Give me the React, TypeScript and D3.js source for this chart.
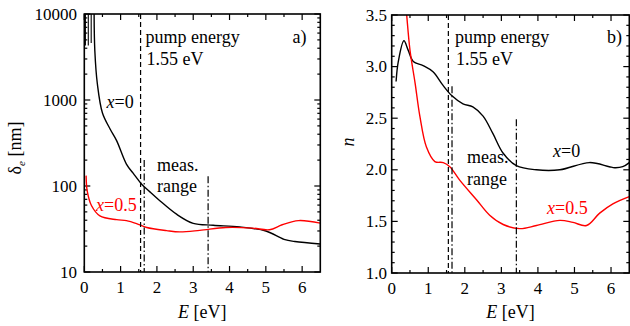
import React from 'react';
import * as d3 from 'd3';

// ---- data ----
const deltaX0E = [0.27, 0.29, 0.36, 0.5, 0.71, 0.89, 1.16, 1.35, 1.58, 1.8, 2.08, 2.54, 3.0, 3.55, 4.28, 5.0, 5.5, 5.8, 6.5];
const deltaX0 = [10000, 3740, 1535, 706, 460, 337, 180, 140, 105, 86, 67.5, 47, 36.8, 35, 33.4, 30, 24, 22.6, 21.2];
const deltaX0SpikeE = [0.03, 0.11, 0.19];
const deltaX0SpikeLow = [4300, 4300, 4600];
const deltaX05E = [0.05, 0.08, 0.2, 0.43, 0.89, 1.16, 1.44, 1.72, 2.27, 2.63, 3.18, 3.9, 4.63, 5.1, 5.45, 5.9, 6.5];
const deltaX05 = [132, 88, 59, 45, 40.6, 39.6, 36.6, 32.9, 30.3, 29.3, 30.5, 32.9, 32.4, 31, 35.4, 39.6, 37];

const nX0E = [0.12, 0.18, 0.335, 0.45, 0.59, 0.86, 1.13, 1.4, 1.64, 1.95, 2.22, 2.5, 2.77, 3.05, 3.41, 3.96, 4.6, 5.41, 5.95, 6.1, 6.32, 6.5];
const nX0 = [2.855, 3.048, 3.25, 3.16, 3.05, 3.01, 2.95, 2.82, 2.72, 2.64, 2.61, 2.52, 2.35, 2.16, 2.04, 2.0, 2.0, 2.07, 2.03, 2.02, 2.03, 2.07];
const nX05E = [0.35, 0.41, 0.5, 0.64, 0.77, 0.95, 1.18, 1.41, 1.59, 1.86, 2.32, 2.68, 3.05, 3.5, 3.96, 4.6, 4.96, 5.33, 5.69, 6.05, 6.5];
const nX05 = [3.75, 3.5, 3.16, 2.84, 2.52, 2.22, 2.08, 2.07, 2.03, 1.9, 1.71, 1.56, 1.47, 1.43, 1.46, 1.51, 1.49, 1.46, 1.58, 1.67, 1.74];

const pumpEnergy = 1.55;
const measRange = [1.65, 3.41];
const measTopDelta = [200, 130];
const measTopN = [2.81, 2.49];

const xMajor = [0, 1, 2, 3, 4, 5, 6];
const xMinor = [0.5, 1.5, 2.5, 3.5, 4.5, 5.5];
const deltaMajor = [10, 100, 1000, 10000];
const nMajor = [1.0, 1.5, 2.0, 2.5, 3.0, 3.5];

const RED = '#ff0000';
const FONT = 'Liberation Serif';

function zip(xs: number[], ys: number[]): [number, number][] {
  return xs.map((x, i) => [x, ys[i]]);
}

type TProps = { x: number; y: number; size?: number; anchor?: string; fill?: string; italic?: boolean; transform?: string; children?: React.ReactNode };
function T({ x, y, size = 18, anchor = 'start', fill = '#000', italic = false, transform, children }: TProps) {
  return (
    <text x={x} y={y} transform={transform} fontSize={size} textAnchor={anchor} fill={fill}
      fontFamily={FONT} fontStyle={italic ? 'italic' : 'normal'} style={{ fontFamily: FONT }}>
      {children}
    </text>
  );
}

export default function App() {
  const W = 630, H = 326;
  const xL = d3.scaleLinear().domain([0, 6.5]).range([84.3, 320.3]);
  const yL = d3.scaleLog().domain([10, 10000]).range([272, 14]);
  const xR = d3.scaleLinear().domain([0, 6.5]).range([391.7, 629.3]);
  const yR = d3.scaleLinear().domain([1, 3.5]).range([273, 15]);

  const lineL = d3.line<[number, number]>().x(d => xL(d[0])).y(d => yL(d[1])).curve(d3.curveCatmullRom.alpha(0.5));
  const lineR = d3.line<[number, number]>().x(d => xR(d[0])).y(d => yR(d[1])).curve(d3.curveCatmullRom.alpha(0.5));

  const deltaMinor: number[] = [];
  [10, 100, 1000].forEach(b => { for (let k = 2; k <= 9; k++) deltaMinor.push(b * k); });
  const nMinor = d3.range(1.1, 3.5, 0.1).filter(v => Math.abs(v * 2 - Math.round(v * 2)) > 0.01);

  const tick = 6, mtick = 3;
  const dashed = '5,3';
  const dashdot = '7,2.5,1.5,2.5';

  const xl0 = xL.range()[0], xl1 = xL.range()[1], yl0 = yL.range()[0], yl1 = yL.range()[1];
  const xr0 = xR.range()[0], xr1 = xR.range()[1], yr0 = yR.range()[0], yr1 = yR.range()[1];

  const tickStyle = { stroke: '#000', strokeWidth: 1.2 };

  return (
    <svg width={W} height={H} style={{ position: 'absolute', left: 0, top: 0 }}>
      <style>{`text, tspan { font-family: "Liberation Serif", serif; }`}</style>
      <defs>
        <clipPath id="clipL"><rect x={xl0} y={yl1} width={xl1 - xl0} height={yl0 - yl1} /></clipPath>
        <clipPath id="clipR"><rect x={xr0} y={yr1} width={xr1 - xr0} height={yr0 - yr1} /></clipPath>
      </defs>
      <rect x={0} y={0} width={W} height={H} fill="#fff" />

      {/* ===== LEFT PANEL ===== */}
      <g>
        {xMajor.map(v => (
          <g key={'lxm' + v}>
            <line x1={xL(v)} x2={xL(v)} y1={yl0} y2={yl0 - tick} {...tickStyle} />
            <line x1={xL(v)} x2={xL(v)} y1={yl1} y2={yl1 + tick} {...tickStyle} />
            <T x={xL(v)} y={293} size={17} anchor="middle">{v}</T>
          </g>
        ))}
        {xMinor.map(v => (
          <g key={'lxn' + v}>
            <line x1={xL(v)} x2={xL(v)} y1={yl0} y2={yl0 - mtick} {...tickStyle} />
            <line x1={xL(v)} x2={xL(v)} y1={yl1} y2={yl1 + mtick} {...tickStyle} />
          </g>
        ))}
        {deltaMajor.map(v => (
          <g key={'lym' + v}>
            <line x1={xl0} x2={xl0 + tick} y1={yL(v)} y2={yL(v)} {...tickStyle} />
            <line x1={xl1} x2={xl1 - tick} y1={yL(v)} y2={yL(v)} {...tickStyle} />
            <T x={77} y={yL(v) + 5.5} size={17} anchor="end">{v}</T>
          </g>
        ))}
        {deltaMinor.map(v => (
          <g key={'lyn' + v}>
            <line x1={xl0} x2={xl0 + mtick} y1={yL(v)} y2={yL(v)} {...tickStyle} />
            <line x1={xl1} x2={xl1 - mtick} y1={yL(v)} y2={yL(v)} {...tickStyle} />
          </g>
        ))}

        <g clipPath="url(#clipL)" fill="none">
          {deltaX0SpikeE.map((e, i) => (
            <line key={'sp' + i} x1={xL(e)} x2={xL(e)} y1={yl1} y2={yL(deltaX0SpikeLow[i])} stroke="#000" strokeWidth={1.1} />
          ))}
          <path d={lineL(zip(deltaX0E, deltaX0)) || ''} stroke="#000" strokeWidth={1.4} />
          <path d={lineL(zip(deltaX05E, deltaX05)) || ''} stroke={RED} strokeWidth={1.4} />
        </g>

        <line x1={xL(pumpEnergy)} x2={xL(pumpEnergy)} y1={yl1} y2={yl0} stroke="#000" strokeWidth={1.2} strokeDasharray={dashed} />
        {measRange.map((e, i) => (
          <line key={'lmr' + i} x1={xL(e)} x2={xL(e)} y1={yL(measTopDelta[i])} y2={yl0} stroke="#000" strokeWidth={1.2} strokeDasharray={dashdot} />
        ))}

        <rect x={xl0} y={yl1} width={xl1 - xl0} height={yl0 - yl1} fill="none" stroke="#000" strokeWidth={1.6} />

        <T x={145.5} y={43}>pump energy</T>
        <T x={146.5} y={65}>1.55 eV</T>
        <T x={292.5} y={43}>a)</T>
        <T x={157} y={171}>meas.</T>
        <T x={157} y={192}>range</T>
        <T x={106.5} y={108}><tspan fontStyle="italic">x</tspan>=0</T>
        <T x={96} y={211} fill={RED}><tspan fontStyle="italic">x</tspan>=0.5</T>

        <T x={xL(3.25)} y={318} anchor="middle"><tspan fontStyle="italic">E</tspan> [eV]</T>
        <T x={0} y={0} transform="translate(21,148) rotate(-90)" anchor="middle">
          δ<tspan fontStyle="italic" fontSize={11} dy={4}>e</tspan><tspan dy={-4}> [nm]</tspan>
        </T>
      </g>

      {/* ===== RIGHT PANEL ===== */}
      <g>
        {xMajor.map(v => (
          <g key={'rxm' + v}>
            <line x1={xR(v)} x2={xR(v)} y1={yr0} y2={yr0 - tick} {...tickStyle} />
            <line x1={xR(v)} x2={xR(v)} y1={yr1} y2={yr1 + tick} {...tickStyle} />
            <T x={xR(v)} y={294} size={17} anchor="middle">{v}</T>
          </g>
        ))}
        {xMinor.map(v => (
          <g key={'rxn' + v}>
            <line x1={xR(v)} x2={xR(v)} y1={yr0} y2={yr0 - mtick} {...tickStyle} />
            <line x1={xR(v)} x2={xR(v)} y1={yr1} y2={yr1 + mtick} {...tickStyle} />
          </g>
        ))}
        {nMajor.map(v => (
          <g key={'rym' + v}>
            <line x1={xr0} x2={xr0 + tick} y1={yR(v)} y2={yR(v)} {...tickStyle} />
            <line x1={xr1} x2={xr1 - tick} y1={yR(v)} y2={yR(v)} {...tickStyle} />
            <T x={387} y={yR(v) + 5.5} size={17} anchor="end">{d3.format('.1f')(v)}</T>
          </g>
        ))}
        {nMinor.map(v => (
          <g key={'ryn' + v.toFixed(1)}>
            <line x1={xr0} x2={xr0 + mtick} y1={yR(v)} y2={yR(v)} {...tickStyle} />
            <line x1={xr1} x2={xr1 - mtick} y1={yR(v)} y2={yR(v)} {...tickStyle} />
          </g>
        ))}

        <g clipPath="url(#clipR)" fill="none">
          <path d={lineR(zip(nX0E, nX0)) || ''} stroke="#000" strokeWidth={1.4} />
          <path d={lineR(zip(nX05E, nX05)) || ''} stroke={RED} strokeWidth={1.4} />
        </g>

        <line x1={xR(pumpEnergy)} x2={xR(pumpEnergy)} y1={yr1} y2={yr0} stroke="#000" strokeWidth={1.2} strokeDasharray={dashed} />
        {measRange.map((e, i) => (
          <line key={'rmr' + i} x1={xR(e)} x2={xR(e)} y1={yR(measTopN[i])} y2={yr0} stroke="#000" strokeWidth={1.2} strokeDasharray={dashdot} />
        ))}

        <rect x={xr0} y={yr1} width={xr1 - xr0} height={yr0 - yr1} fill="none" stroke="#000" strokeWidth={1.6} />

        <T x={455} y={43}>pump energy</T>
        <T x={456} y={65}>1.55 eV</T>
        <T x={607} y={43}>b)</T>
        <T x={467} y={163}>meas.</T>
        <T x={467} y={185}>range</T>
        <T x={553} y={157}><tspan fontStyle="italic">x</tspan>=0</T>
        <T x={547} y={214} fill={RED}><tspan fontStyle="italic">x</tspan>=0.5</T>

        <T x={xR(3.25)} y={318} anchor="middle"><tspan fontStyle="italic">E</tspan> [eV]</T>
        <T x={0} y={0} transform="translate(354,142) rotate(-90)" anchor="middle" italic>n</T>
      </g>
    </svg>
  );
}
